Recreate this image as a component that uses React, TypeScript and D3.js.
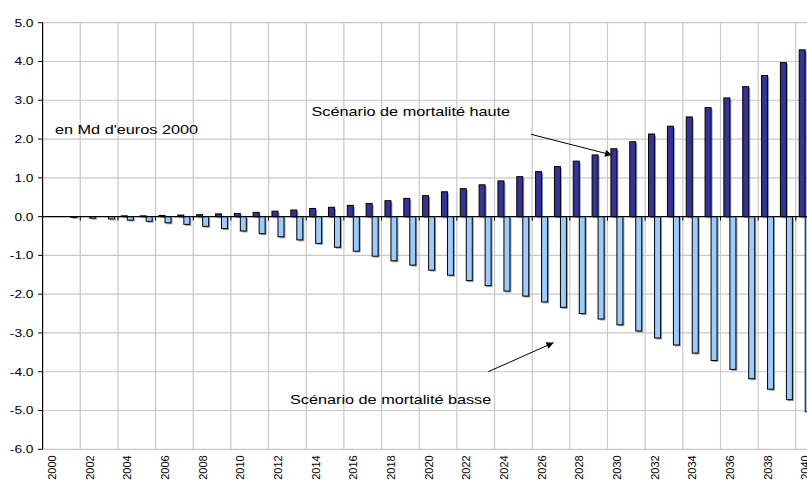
import React from "react";
import * as d3 from "d3";

const years = d3.range(2000, 2041);
const yearLabels = years.filter((y) => y % 2 === 0);
const yTicks = [5, 4, 3, 2, 1, 0, -1, -2, -3, -4, -5, -6];

// Scénario de mortalité haute
const highValues = [
  0.0, 0.01, 0.01, 0.01, 0.02, 0.02, 0.03, 0.04, 0.05, 0.07,
  0.08, 0.11, 0.14, 0.17, 0.21, 0.24, 0.29, 0.34, 0.41, 0.47,
  0.54, 0.64, 0.72, 0.82, 0.92, 1.03, 1.16, 1.29, 1.43, 1.59,
  1.75, 1.93, 2.13, 2.33, 2.57, 2.81, 3.06, 3.35, 3.64, 3.97, 4.3,
];
// Scénario de mortalité basse
const lowValues = [
  0.0, -0.02, -0.04, -0.06, -0.09, -0.12, -0.16, -0.2, -0.25, -0.31,
  -0.37, -0.44, -0.52, -0.6, -0.69, -0.79, -0.89, -1.02, -1.14, -1.25,
  -1.38, -1.51, -1.65, -1.78, -1.92, -2.05, -2.2, -2.34, -2.5, -2.64,
  -2.79, -2.95, -3.13, -3.31, -3.52, -3.71, -3.94, -4.18, -4.45, -4.72, -5.03,
];
const seriesNames = ["haute", "basse"];
const seriesColors = ["#333399", "#99ccff"];

const width = 807;
const height = 482;
const left = 42.6;
const step = 18.83;
const sx = 1.25; // texte étiré horizontalement

const App = () => {
  const x = d3
    .scaleBand<number>()
    .domain(years)
    .range([left, left + years.length * step])
    .paddingInner(0.363)
    .paddingOuter(0.1815);
  const xs = d3.scaleBand<string>().domain(seriesNames).range([0, x.bandwidth()]);
  const y = d3.scaleLinear().domain([-6, 5]).range([449.3, 22.7]);
  const y0 = y(0);
  const top = y(5);
  const bottom = y(-6);
  const font = "Arial, 'Liberation Sans', sans-serif";
  const bounds = d3.range(2, years.length + 1, 2).map((i) => left + i * step);

  const bar = (v: number, yr: number, s: number) => {
    const bx = (x(yr) ?? 0) + (xs(seriesNames[s]) ?? 0);
    const by = Math.min(y(v), y0);
    const bh = Math.abs(y(v) - y0);
    if (bh < 0.5) return null;
    return (
      <g key={`${s}-${yr}`}>
        <rect x={bx + 1.5} y={by + 1.5} width={xs.bandwidth()} height={bh} fill="#555" opacity={0.55} />
        <rect x={bx} y={by} width={xs.bandwidth()} height={bh} fill={seriesColors[s]} stroke="#000" strokeWidth={1} />
      </g>
    );
  };

  return (
    <svg width={width} height={height} style={{ position: "absolute", left: 0, top: 0, background: "#fff" }}>
      <defs>
        <marker id="arr" viewBox="0 0 10 10" refX="10" refY="5" markerWidth="9" markerHeight="7" orient="auto" markerUnits="userSpaceOnUse">
          <path d="M0,0 L10,5 L0,10 z" fill="#000" />
        </marker>
      </defs>
      {/* grille */}
      {yTicks.map((t) => (
        <line key={`h${t}`} x1={left} x2={width} y1={y(t)} y2={y(t)} stroke="#c8c8c8" strokeWidth={1.2} />
      ))}
      {bounds.map((b) => (
        <line key={`v${b}`} x1={b} x2={b} y1={top} y2={bottom} stroke="#c8c8c8" strokeWidth={1.2} />
      ))}
      {/* barres */}
      {years.map((yr, i) => bar(highValues[i], yr, 0))}
      {years.map((yr, i) => bar(lowValues[i], yr, 1))}
      {/* axe x sur le zéro */}
      <line x1={left} x2={width} y1={y0} y2={y0} stroke="#000" strokeWidth={1.2} />
      {bounds.map((b) => (
        <line key={`t${b}`} x1={b} x2={b} y1={y0} y2={y0 + 4} stroke="#000" strokeWidth={1} />
      ))}
      {/* axe y */}
      <line x1={left} x2={left} y1={top} y2={bottom} stroke="#000" strokeWidth={1.2} />
      {yTicks.map((t) => (
        <g key={`yt${t}`}>
          <line x1={left - 4.5} x2={left} y1={y(t)} y2={y(t)} stroke="#000" strokeWidth={1} />
          <text
            transform={`translate(33.5,${y(t)}) scale(${sx},1)`}
            dy="0.36em"
            textAnchor="end"
            fontFamily={font}
            fontSize={11}
            fill="#000"
          >
            {t.toFixed(1)}
          </text>
        </g>
      ))}
      {yearLabels.map((yr) => (
        <text
          key={`xl${yr}`}
          transform={`translate(${(x(yr) ?? 0) + x.bandwidth() / 2 + 4},${bottom + 6}) rotate(-90)`}
          textAnchor="end"
          fontFamily={font}
          fontSize={11}
          fill="#000"
        >
          {yr}
        </text>
      ))}
      {/* annotations */}
      <text transform={`translate(55,134) scale(${sx},1)`} fontFamily={font} fontSize={13} fill="#000">
        en Md d'euros 2000
      </text>
      <text transform={`translate(311.5,116) scale(${sx},1)`} fontFamily={font} fontSize={13} fill="#000">
        Scénario de mortalité haute
      </text>
      <line x1={531} y1={134.3} x2={612} y2={155} stroke="#000" strokeWidth={1} markerEnd="url(#arr)" />
      <text transform={`translate(290,404) scale(${sx},1)`} fontFamily={font} fontSize={13} fill="#000">
        Scénario de mortalité basse
      </text>
      <line x1={488.3} y1={371.7} x2={553.5} y2={342.7} stroke="#000" strokeWidth={1} markerEnd="url(#arr)" />
    </svg>
  );
};

export default App;
